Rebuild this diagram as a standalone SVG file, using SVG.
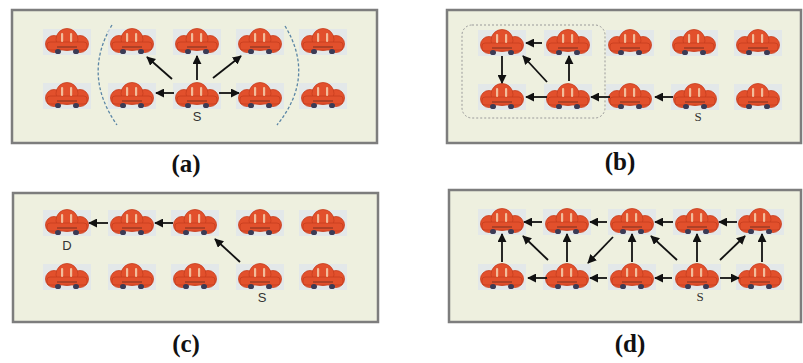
<svg xmlns="http://www.w3.org/2000/svg" xmlns:xlink="http://www.w3.org/1999/xlink" width="803" height="363" viewBox="0 0 803 363">
  <style>
    .panel { fill: #eef0df; stroke: #7d7d7d; stroke-width: 2.5; }
    .cap { font-family: "Liberation Serif", "Times New Roman", serif; font-weight: bold; font-size: 25px; fill: #111; text-anchor: middle; }
    .lbl { font-family: "Liberation Sans", Arial, sans-serif; font-size: 13px; fill: #333; text-anchor: middle; }
    .lbls { font-family: "Liberation Serif", "Times New Roman", serif; font-size: 13px; fill: #333; text-anchor: middle; }
    .arr { stroke: #111; stroke-width: 1.8; fill: none; marker-end: url(#head); }
    .range { fill: none; stroke: #5b86a6; stroke-width: 1.3; stroke-dasharray: 3 2; }
    .zone { fill: none; stroke: #9a9a9a; stroke-width: 1; stroke-dasharray: 2 2; }
  </style>
  <defs>
    <marker id="head" viewBox="0 0 10 10" refX="9" refY="5" markerWidth="5" markerHeight="5" orient="auto" markerUnits="strokeWidth">
      <path d="M0,0 L10,5 L0,10 Z" fill="#111"/>
    </marker>
    <!-- cartoon car, centred on its origin -->
    <symbol id="car" overflow="visible">
      <rect x="-24" y="-13" width="48" height="26" fill="#dfe5ec" opacity="0.75"/>
      <g fill="#e2502c" stroke="#c63d1e" stroke-width="0.8">
        <circle cx="-13" cy="2" r="8.5"/>
        <circle cx="13" cy="2" r="8.5"/>
        <circle cx="0" cy="-2.5" r="11"/>
        <rect x="-20" y="0" width="40" height="8" rx="3"/>
      </g>
      <g fill="#f4c8a6" opacity="0.9">
        <rect x="-6" y="-9" width="2.2" height="9" rx="1"/>
        <rect x="3" y="-9" width="2.2" height="9" rx="1"/>
      </g>
      <path d="M-10,5 H10" stroke="#7a3020" stroke-width="1"/>
      <g fill="#3b3b55">
        <ellipse cx="-9" cy="9.5" rx="3" ry="2.6"/>
        <ellipse cx="9" cy="9.5" rx="3" ry="2.6"/>
      </g>
    </symbol>
  </defs>

  <!-- panel frames -->
  <rect class="panel" x="12" y="10" width="365" height="133"/>
  <rect class="panel" x="447" y="10" width="354" height="133"/>
  <rect class="panel" x="13" y="193" width="365" height="129"/>
  <rect class="panel" x="449" y="190" width="352" height="132"/>

  <!-- panel (a) -->
  <g id="panel-a">
    <path class="range" d="M112,25 Q82,75 117,125"/>
    <path class="range" d="M285,26 Q316,77 277,125"/>
    <g id="a-cars">
      <use href="#car" x="67" y="42"/><use href="#car" x="132" y="42"/><use href="#car" x="197" y="42"/><use href="#car" x="260" y="42"/><use href="#car" x="323" y="42"/>
      <use href="#car" x="67" y="96"/><use href="#car" x="132" y="96"/><use href="#car" x="197" y="96"/><use href="#car" x="260" y="96"/><use href="#car" x="323" y="96"/>
    </g>
    <text class="lbl" x="197" y="121">S</text>
    <g id="a-links">
      <line class="arr" x1="174" y1="93" x2="156" y2="93"/>
      <line class="arr" x1="219" y1="93" x2="239" y2="93"/>
      <line class="arr" x1="197" y1="80" x2="197" y2="56"/>
      <line class="arr" x1="172" y1="79" x2="147" y2="57"/>
      <line class="arr" x1="213" y1="78" x2="241" y2="56"/>
    </g>
  </g>
  <text class="cap" x="186" y="172">(a)</text>

  <!-- panel (b) -->
  <g id="panel-b">
    <rect class="zone" x="462" y="25" width="143" height="93" rx="10"/>
    <g id="b-cars">
      <use href="#car" x="502" y="43"/><use href="#car" x="568" y="43"/><use href="#car" x="630" y="43"/><use href="#car" x="694" y="43"/><use href="#car" x="758" y="43"/>
      <use href="#car" x="502" y="97"/><use href="#car" x="568" y="97"/><use href="#car" x="630" y="97"/><use href="#car" x="695" y="97"/><use href="#car" x="758" y="97"/>
    </g>
    <text class="lbls" x="698" y="121">S</text>
    <g id="b-links">
      <line class="arr" x1="542" y1="43" x2="526" y2="43"/>
      <line class="arr" x1="502" y1="56" x2="502" y2="83"/>
      <line class="arr" x1="547" y1="82" x2="523" y2="56"/>
      <line class="arr" x1="569" y1="81" x2="569" y2="56"/>
      <line class="arr" x1="547" y1="97" x2="526" y2="97"/>
      <line class="arr" x1="610" y1="97" x2="591" y2="97"/>
      <line class="arr" x1="673" y1="97" x2="655" y2="97"/>
    </g>
  </g>
  <text class="cap" x="620" y="170">(b)</text>

  <!-- panel (c) -->
  <g id="panel-c">
    <g id="c-cars">
      <use href="#car" x="67" y="223"/><use href="#car" x="132" y="223"/><use href="#car" x="195" y="223"/><use href="#car" x="260" y="223"/><use href="#car" x="323" y="223"/>
      <use href="#car" x="67" y="277"/><use href="#car" x="132" y="277"/><use href="#car" x="195" y="277"/><use href="#car" x="260" y="277"/><use href="#car" x="323" y="277"/>
    </g>
    <text class="lbl" x="67" y="250">D</text>
    <text class="lbl" x="262" y="302">S</text>
    <g id="c-links">
      <line class="arr" x1="108" y1="223" x2="89" y2="223"/>
      <line class="arr" x1="173" y1="223" x2="155" y2="223"/>
      <line class="arr" x1="240" y1="262" x2="215" y2="239"/>
    </g>
  </g>
  <text class="cap" x="186" y="352">(c)</text>

  <!-- panel (d) -->
  <g id="panel-d">
    <g id="d-cars">
      <use href="#car" x="502" y="222"/><use href="#car" x="567" y="222"/><use href="#car" x="632" y="222"/><use href="#car" x="697" y="222"/><use href="#car" x="760" y="222"/>
      <use href="#car" x="502" y="277"/><use href="#car" x="567" y="277"/><use href="#car" x="632" y="277"/><use href="#car" x="697" y="277"/><use href="#car" x="760" y="277"/>
    </g>
    <text class="lbls" x="700" y="301">S</text>
    <g id="d-links">
      <line class="arr" x1="542" y1="222" x2="524" y2="222"/>
      <line class="arr" x1="607" y1="222" x2="590" y2="222"/>
      <line class="arr" x1="673" y1="222" x2="655" y2="222"/>
      <line class="arr" x1="737" y1="222" x2="719" y2="222"/>
      <line class="arr" x1="547" y1="278" x2="528" y2="278"/>
      <line class="arr" x1="607" y1="278" x2="590" y2="278"/>
      <line class="arr" x1="672" y1="278" x2="655" y2="278"/>
      <line class="arr" x1="720" y1="278" x2="739" y2="278"/>
      <line class="arr" x1="502" y1="262" x2="502" y2="234"/>
      <line class="arr" x1="567" y1="262" x2="567" y2="234"/>
      <line class="arr" x1="632" y1="262" x2="632" y2="234"/>
      <line class="arr" x1="697" y1="262" x2="697" y2="234"/>
      <line class="arr" x1="762" y1="262" x2="762" y2="234"/>
      <line class="arr" x1="548" y1="260" x2="523" y2="236"/>
      <line class="arr" x1="613" y1="237" x2="588" y2="263"/>
      <line class="arr" x1="677" y1="260" x2="651" y2="236"/>
      <line class="arr" x1="720" y1="260" x2="745" y2="236"/>
    </g>
  </g>
  <text class="cap" x="630" y="352">(d)</text>
</svg>
